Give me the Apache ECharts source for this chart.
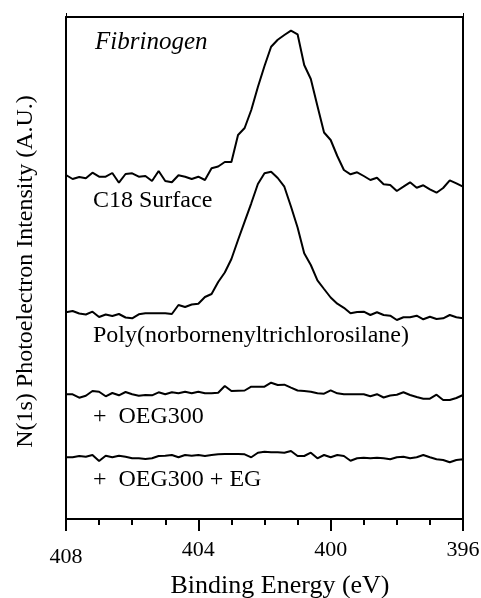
<!DOCTYPE html>
<html>
<head>
<meta charset="utf-8">
<script src="https://cdn.jsdelivr.net/npm/echarts@6/dist/echarts.min.js"></script>
<style>
html,body{margin:0;padding:0;background:#fff;}
#chart{width:481px;height:598px;}
</style>
</head>
<body>
<div id="chart"></div>
<script>
// Binding energy (eV) sample positions
const energy = [408.2,408,407.8,407.6,407.4,407.2,407,406.8,406.6,406.4,
406.2,406,405.8,405.6,405.4,405.2,405,404.8,404.6,404.4,
404.2,404,403.8,403.6,403.4,403.2,403,402.8,402.6,402.4,
402.2,402,401.8,401.6,401.4,401.2,401,400.8,400.6,400.4,
400.2,400,399.8,399.6,399.4,399.2,399,398.8,398.6,398.4,
398.2,398,397.8,397.6,397.4,397.2,397,396.8,396.6,396.4,
396.2,396,395.8];

// N(1s) intensity traces (A.U., stacked with offsets)
const c18 = [345.7,344,340,342,340.7,346.3,342.3,342.3,346,336.3,
345,345.7,342.3,343,338,348,338,336.7,343.7,342.3,
340,342.3,339,350.7,352.5,357,357,384,391,409,
432,453,472.3,479.3,484,488.3,484.7,454,440,413,
386.5,379,363,349,344.7,346.7,343,339,341.3,334.7,
334,328,332.3,336.7,331.3,333.7,329.7,326.3,331,338.7,
335.7,332.3,322.3];

const poly = [208,206.7,208,205.5,204.5,207.3,202,204.5,203,205,
201.5,200.7,204.7,205.7,205.7,205.7,205.7,205,214,212,
214.5,215.2,222,225,237,246.5,260,279,297.3,315.7,
335,345.7,347.3,341,332.3,312.5,291.5,265.7,254,238.7,
230,221.5,215.3,211.2,205.7,207,207.3,204,206.7,204,
203.3,199,201.7,201.7,203.3,199.7,202.3,200,200.7,204,
201.7,200.7,201.3];

const oeg = [126.3,124.7,124.7,121.3,123.3,128,127.3,122.7,126,123.7,
127,124.7,123.3,124,123.7,126.7,124.7,126.7,125.7,127.3,
125.7,127.3,125.7,125.7,126.3,133,128,128.3,128.5,132.3,
132.3,132.3,136.3,134,134.3,131.3,128.5,128,127.3,125.7,
125.3,128.7,125.7,124.7,124.7,124.7,124.7,122.8,124.8,121.5,
123.5,124.3,126.7,124,122,120.3,120.3,124.3,119,119,
121,124,125.7];

const oegEg = [63,61.7,61.7,63,62.3,64,58,63.3,61.7,63.3,
62.3,60.7,60.7,60,60.7,63,63.3,64,61.7,64,
63.3,64,63,64,64.7,65,65,65,64.7,61.7,
66.3,67.3,66.7,66.7,66.3,68,63,63,66.3,60.7,
64,61.7,64,63,58.3,60.7,61.3,60.7,61.3,60.7,
59.7,61.7,62.3,60.7,61.7,64,61.7,59.7,59,56.7,
59,59.7,57.3];

const seriesNames = ['Fibrinogen on C18', 'Poly(norbornenyltrichlorosilane)', '+ OEG300', '+ OEG300 + EG'];
const xTicks = [396, 400, 404, 408];
const xTitle = 'Binding Energy (eV)';
const yTitle = 'N(1s) Photoelectron Intensity (A.U.)';
const annotTitle = 'Fibrinogen';
const traceLabels = ['C18 Surface', 'Poly(norbornenyltrichlorosilane)', '+  OEG300', '+  OEG300 + EG'];

const FONT = '"Liberation Serif", "Times New Roman", serif';
const chart = echarts.init(document.getElementById('chart'), null, {renderer: 'canvas'});

function zip(ys) { return energy.map((e, i) => [e, ys[i]]); }
const traces = [c18, poly, oeg, oegEg];

const option = {
  backgroundColor: '#fff',
  animation: false,
  grid: {left: 66, right: 18, top: 17, bottom: 79, containLabel: false, outerBoundsMode: 'none'},
  xAxis: [{
    type: 'value', inverse: true, min: 396, max: 408, interval: 4,
    position: 'bottom',
    name: xTitle, nameLocation: 'middle', nameGap: 48,
    nameTextStyle: {fontFamily: FONT, fontSize: 26, color: '#000', padding: [0, 0, 0, 31]},
    axisLine: {show: true, onZero: false, lineStyle: {color: '#000', width: 2}},
    axisTick: {show: true, inside: false, length: 12, lineStyle: {color: '#000', width: 2}},
    minorTick: {show: true, splitNumber: 4, length: 6, lineStyle: {color: '#000', width: 2}},
    splitLine: {show: false},
    axisLabel: {
      margin: 20, fontFamily: FONT, fontSize: 22, color: '#000',
      formatter: function (v) { return v === 408 ? '{low|' + v + '}' : String(v); },
      rich: {low: {fontFamily: FONT, fontSize: 22, color: '#000', padding: [7, 0, 0, 0]}}
    }
  }, {
    type: 'value', inverse: true, min: 396, max: 408, interval: 12,
    position: 'top',
    axisLine: {show: true, onZero: false, lineStyle: {color: '#000', width: 2}},
    axisTick: {show: true, inside: false, length: 4, lineStyle: {color: '#000', width: 1}},
    axisLabel: {show: false},
    splitLine: {show: false}
  }],
  yAxis: [{
    type: 'value', min: 0, max: 502, position: 'left',
    name: yTitle, nameLocation: 'middle', nameGap: 28, nameRotate: 90,
    nameTextStyle: {fontFamily: FONT, fontSize: 24, color: '#000', padding: [0, 7, 0, 0]},
    axisLine: {show: true, onZero: false, lineStyle: {color: '#000', width: 2}},
    axisTick: {show: false}, axisLabel: {show: false}, splitLine: {show: false}
  }, {
    type: 'value', min: 0, max: 502, position: 'right',
    axisLine: {show: true, onZero: false, lineStyle: {color: '#000', width: 2}},
    axisTick: {show: false}, axisLabel: {show: false}, splitLine: {show: false}
  }],
  series: traces.map((t, i) => ({
    name: seriesNames[i], type: 'line', data: zip(t),
    xAxisIndex: 0, yAxisIndex: 0,
    showSymbol: false, symbol: 'none', clip: false, smooth: false,
    lineStyle: {color: '#000', width: 2},
    z: 3
  })),
  graphic: [
    {type: 'text', left: 95, top: 30, style: {text: annotTitle, font: 'italic 25px ' + FONT, fill: '#000'}},
    {type: 'text', left: 93, top: 189, style: {text: traceLabels[0], font: '24px ' + FONT, fill: '#000'}},
    {type: 'text', left: 93, top: 324, style: {text: traceLabels[1], font: '24px ' + FONT, fill: '#000'}},
    {type: 'text', left: 93, top: 405, style: {text: traceLabels[2], font: '24px ' + FONT, fill: '#000'}},
    {type: 'text', left: 93, top: 468, style: {text: traceLabels[3], font: '24px ' + FONT, fill: '#000'}}
  ]
};
chart.setOption(option);
</script>
</body>
</html>
